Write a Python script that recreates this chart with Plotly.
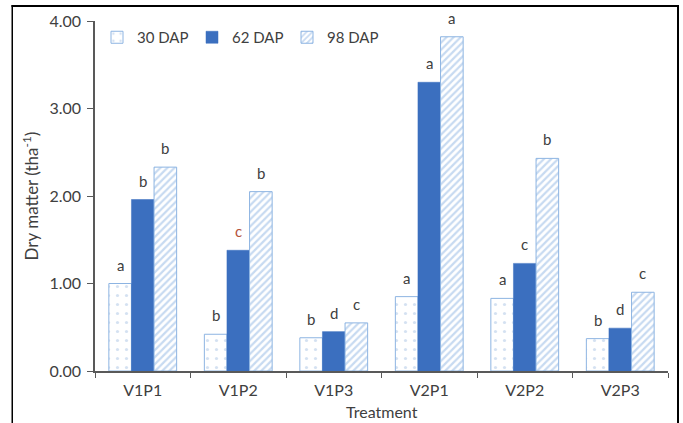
import plotly.graph_objects as go

categories = ["V1P1", "V1P2", "V1P3", "V2P1", "V2P2", "V2P3"]
dap30 = [1.00, 0.42, 0.38, 0.85, 0.83, 0.37]
dap62 = [1.96, 1.38, 0.45, 3.30, 1.23, 0.49]
dap98 = [2.33, 2.05, 0.55, 3.82, 2.43, 0.90]
let30 = ["a", "b", "b", "a", "a", "b"]
let62 = ["b", "c", "d", "a", "c", "d"]
let98 = ["b", "b", "c", "a", "b", "c"]

font = "Lato, 'Open Sans', sans-serif"
gray = "#404040"

fig = go.Figure()
fig.add_trace(go.Bar(
    name="30 DAP", x=categories, y=dap30,
    marker=dict(color="white", line=dict(color="#8DB4E2", width=1),
                pattern=dict(shape=".", fgcolor="#A9C4E4", bgcolor="white", size=9, solidity=0.1)),
))
fig.add_trace(go.Bar(
    name="62 DAP", x=categories, y=dap62,
    marker=dict(color="#3B6FBF", line=dict(color="#3B6FBF", width=0.5)),
))
fig.add_trace(go.Bar(
    name="98 DAP", x=categories, y=dap98,
    marker=dict(color="white", line=dict(color="#8DB4E2", width=1),
                pattern=dict(shape="/", fgcolor="#8FB5E3", bgcolor="white", size=5, solidity=0.45)),
))

l, r, t, b = 95, 15, 21, 52
W, H = 683, 423
pw, ph = W - l - r, H - t - b
bargap = 0.29
barw = pw / len(categories) * (1 - bargap) / 3

def px_x(x): return (x - l) / pw
def px_y(y): return (H - b - y) / ph

# significance letters above bars
for k, (vals, lets) in enumerate([(dap30, let30), (dap62, let62), (dap98, let98)]):
    for c, v, s in zip(categories, vals, lets):
        col = "#B5533C" if (k == 1 and c == "V1P2") else gray
        fig.add_annotation(x=c, y=v, text=s, showarrow=False, yanchor="bottom",
                           xshift=(k - 1) * barw, yshift=8,
                           font=dict(family=font, size=15, color=col))

# x-axis title
fig.add_annotation(xref="paper", yref="paper", x=0.5, y=px_y(411), text="Treatment",
                   showarrow=False, xanchor="center", yanchor="middle",
                   font=dict(family=font, size=16, color=gray))

# outer frame (top, left, right edges) as thin filled rectangles
fx0, fx1 = px_x(11.5), px_x(679)
fig.add_shape(type="rect", xref="paper", yref="paper", layer="above",
              x0=fx0, x1=fx1, y0=px_y(7), y1=px_y(5),
              fillcolor="black", line=dict(width=0))
fig.add_shape(type="rect", xref="paper", yref="paper", layer="above",
              x0=px_x(11.5), x1=px_x(13), y0=px_y(440), y1=px_y(5),
              fillcolor="black", line=dict(width=0))
fig.add_shape(type="rect", xref="paper", yref="paper", layer="above",
              x0=px_x(677.5), x1=px_x(679), y0=px_y(440), y1=px_y(5),
              fillcolor="black", line=dict(width=0))

fig.update_layout(
    width=W, height=H,
    margin=dict(l=l, r=r, t=t, b=b),
    paper_bgcolor="white", plot_bgcolor="white",
    barmode="group", bargap=bargap, bargroupgap=0,
    font=dict(family=font, size=16, color=gray),
    showlegend=True,
    legend=dict(orientation="h", x=px_x(97), y=1.0, xanchor="left", yanchor="top",
                bgcolor="rgba(0,0,0,0)", font=dict(family=font, size=15, color=gray),
                itemwidth=30, entrywidth=50, entrywidthmode="pixels"),
    xaxis=dict(showline=True, linecolor="#595959", linewidth=1.5,
               ticks="outside", tickson="boundaries", ticklen=5, tickcolor="#595959",
               ticklabelstandoff=4,
               showgrid=False, tickfont=dict(size=16, color=gray)),
    yaxis=dict(title=dict(text="Dry matter (tha<sup>-1</sup>)", standoff=6, font=dict(size=17)),
               range=[0, 4], dtick=1, tickformat=".2f",
               showline=True, linecolor="#595959", linewidth=1.5,
               ticks="outside", ticklen=6, tickcolor="#595959",
               ticklabelstandoff=3,
               showgrid=False, zeroline=False, tickfont=dict(size=16, color=gray)),
)

post = (
    "document.body.style.margin='0';document.body.style.overflow='hidden';"
    "var f=document.createElement('div');"
    "f.style.cssText='position:absolute;left:12px;top:5px;width:666px;height:440px;"
    "border:1.5px solid black;border-bottom:none;pointer-events:none;box-sizing:border-box;';"
    "document.body.appendChild(f);"
)
fig.write_html("out.html", config={"displayModeBar": False}, post_script=post)
